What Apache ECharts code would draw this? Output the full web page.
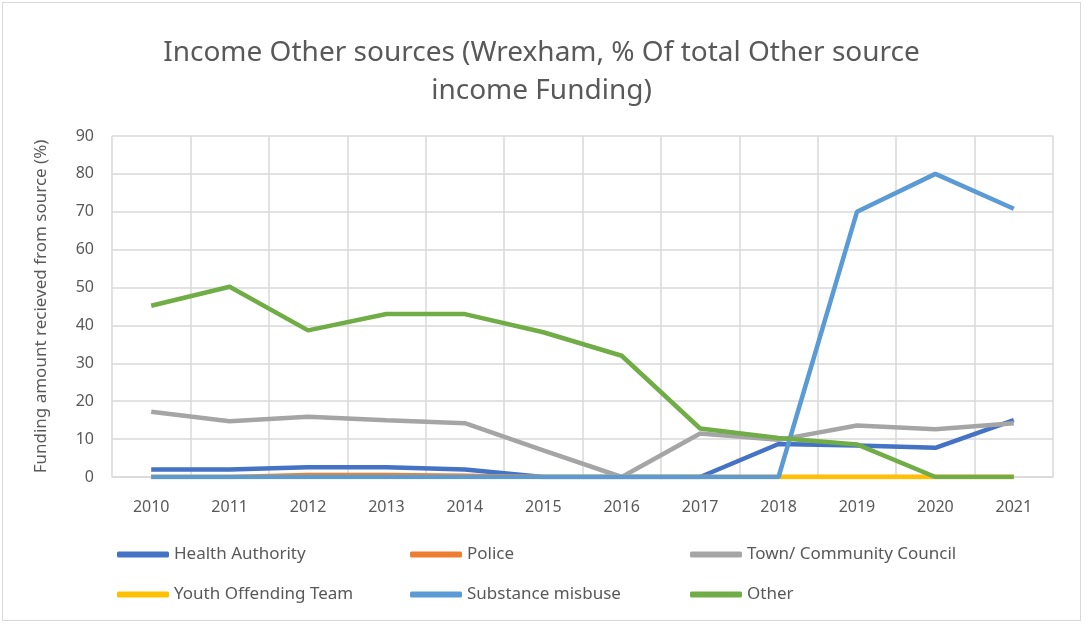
<!DOCTYPE html>
<html>
<head>
<meta charset="utf-8">
<script src="https://cdn.jsdelivr.net/npm/echarts@6/dist/echarts.min.js"></script>
<style>
  html, body { margin: 0; padding: 0; background: #fff; }
  #chart { position: absolute; left: 2px; top: 2px; width: 1079px; height: 619px; border: 1px solid #d9d9d9; box-sizing: border-box; }
</style>
</head>
<body>
<div id="chart"></div>
<script>
// years on the x axis
var years = ["2010", "2011", "2012", "2013", "2014", "2015", "2016", "2017", "2018", "2019", "2020", "2021"];
// % of total other source income
var healthAuthority = [2, 2, 2.6, 2.6, 2, 0, 0, 0, 8.7, 8.3, 7.7, 15];
var police = [0, 0, 0.5, 0.5, 0.3, 0, 0, 0, 0, 0, 0, 0];
var townCouncil = [17.2, 14.7, 15.9, 15, 14.2, 7, 0, 11.5, 9.8, 13.6, 12.6, 14.2];
var youthOffending = [0, 0, 0, 0, 0, 0, 0, 0, 0, 0, 0, 0];
var substanceMisbuse = [0, 0, 0, 0, 0, 0, 0, 0, 0, 70, 80, 70.8];
var otherSource = [45.2, 50.2, 38.7, 43, 43, 38.2, 32, 12.8, 10.3, 8.6, 0, 0];

var font = "'Noto Sans', sans-serif";
var txt = "#595959";

var chart = echarts.init(document.getElementById("chart"));

function mkSeries(name, data, color) {
  return {
    name: name,
    type: "line",
    data: data,
    symbol: "none",
    lineStyle: { width: 4.5, color: color },
    itemStyle: { color: color }
  };
}

function mkLegend(name, left, top) {
  return {
    data: [name],
    left: left,
    top: top,
    itemWidth: 52,
    itemHeight: 6,
    icon: "roundRect",
    textStyle: { color: txt, fontSize: 17, fontFamily: font }
  };
}

var option = {
  animation: false,
  title: {
    text: "Income Other sources (Wrexham, % Of total Other source\nincome Funding)",
    left: "center",
    top: 26,
    textStyle: { color: txt, fontSize: 28, fontWeight: "normal", fontFamily: font, lineHeight: 38 }
  },
  legend: [
    mkLegend("Health Authority", 109, 538),
    mkLegend("Police", 402, 538),
    mkLegend("Town/ Community Council", 682, 538),
    mkLegend("Youth Offending Team", 109, 578),
    mkLegend("Substance misbuse", 402, 578),
    mkLegend("Other", 682, 578)
  ],
  grid: { left: 109, right: 27, top: 133, bottom: 143 },
  xAxis: {
    type: "category",
    data: years,
    boundaryGap: true,
    axisLine: { lineStyle: { color: "#d9d9d9", width: 1.5 } },
    axisTick: { show: false },
    axisLabel: { color: txt, fontSize: 16, fontFamily: font, margin: 22 },
    splitLine: { show: true, lineStyle: { color: "#d9d9d9", width: 1.5 } }
  },
  yAxis: {
    type: "value",
    min: 0,
    max: 90,
    interval: 10,
    name: "Funding amount recieved from source (%)",
    nameLocation: "middle",
    nameGap: 62,
    nameTextStyle: { color: txt, fontSize: 17, fontFamily: font },
    axisLine: { show: false },
    axisTick: { show: false },
    axisLabel: { color: txt, fontSize: 16, fontFamily: font, margin: 18 },
    splitLine: { lineStyle: { color: "#d9d9d9", width: 1.5 } }
  },
  series: [
    mkSeries("Health Authority", healthAuthority, "#4472c4"),
    mkSeries("Police", police, "#ed7d31"),
    mkSeries("Town/ Community Council", townCouncil, "#a5a5a5"),
    mkSeries("Youth Offending Team", youthOffending, "#ffc000"),
    mkSeries("Substance misbuse", substanceMisbuse, "#5b9bd5"),
    mkSeries("Other", otherSource, "#70ad47")
  ]
};

chart.setOption(option);
</script>
</body>
</html>
